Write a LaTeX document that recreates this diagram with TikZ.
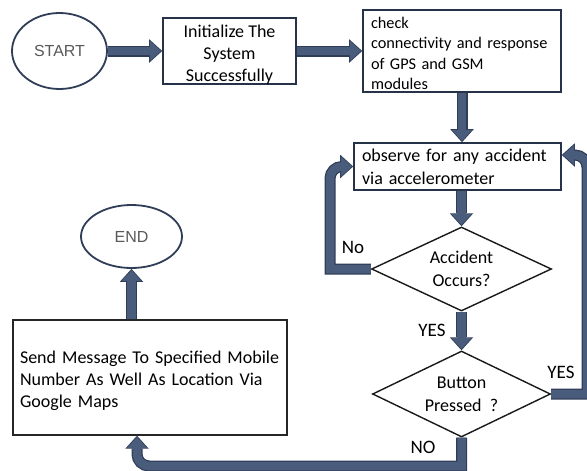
\documentclass[tikz,border=0pt]{standalone}
\usepackage{fontspec}
\setmainfont{Carlito}
\newfontfamily\arialf{Liberation Sans}
\usetikzlibrary{shapes.geometric,arrows.meta}
\definecolor{arrowfill}{HTML}{4A5C7C}
\definecolor{arrowline}{HTML}{2F3D57}
\definecolor{boxline}{HTML}{263248}
\definecolor{ovaltext}{HTML}{595959}
\newcommand{\toppad}[1]{\rule{0pt}{#1}}
\tikzset{
  ellip/.style={ellipse, draw=arrowline, line width=1.8pt, fill=white, inner sep=0pt,
    font=\arialf\fontsize{16}{19}\selectfont, text=ovaltext},
  boxa/.style={rectangle, draw=boxline, line width=1.6pt, fill=white, inner sep=0pt,
    font=\fontsize{18}{22}\selectfont},
  boxb/.style={rectangle, draw=black!85, line width=1.4pt, fill=white, inner sep=0pt,
    font=\fontsize{18}{22}\selectfont},
  decision/.style={diamond, draw=black!90, line width=1.4pt, fill=white, inner sep=0pt,
    aspect=2, align=center, font=\fontsize{18}{23}\selectfont},
  lbl/.style={inner sep=0pt, font=\fontsize{19}{22}\selectfont},
  flow/.style={draw=arrowfill, line width=8.5pt,
    -{Triangle[width=20pt,length=11pt,line width=0pt]}, shorten >=1.3pt,
    preaction={draw=arrowline, line width=11pt,
      -{Triangle[width=23.5pt,length=13pt,line width=0pt]}, shorten >=0pt}},
}
\begin{document}
\begin{tikzpicture}[x=1pt,y=-1pt]
\useasboundingbox (0,0) rectangle (587,471);
% nodes
\node[ellip, minimum width=95pt, minimum height=76pt] (start) at (59.5,51) {START};
\node[boxa, minimum width=133pt, minimum height=66pt, align=center]
  (init) at (229.5,51)
  {\toppad{19pt}Initialize The\\System\\Successfully};
\node[boxa, minimum width=198pt, minimum height=82pt, text width=182pt, align=left,
  font=\fontsize{16.3}{20.3}\selectfont] (check) at (462,51)
  {\toppad{16pt}check\\connectivity and response\\of GPS and GSM\\modules};
\node[boxa, minimum width=207pt, minimum height=47pt, text width=191pt, align=left,
  font=\fontsize{18}{23}\selectfont] (obs) at (457.5,166.5)
  {observe for any accident\\via accelerometer};
\node[decision, minimum width=180pt, minimum height=84pt] (d1) at (461.5,269)
  {Accident\\Occurs?};
\node[decision, minimum width=178pt, minimum height=86pt] (d2) at (461.5,394)
  {Button\\Pressed\ \ ?};
\node[boxb, minimum width=274pt, minimum height=115pt, text width=260pt, align=left] (send)
  at (150,377.5)
  {\toppad{19.5pt}Send Message To Specified Mobile\\Number As Well As Location Via\\Google Maps};
\node[ellip, minimum width=101pt, minimum height=63pt] (end) at (131.5,236.5) {END};
% labels
\node[lbl] (lno) at (353,247) {No};
\node[lbl] (lyes1) at (432,330) {YES};
\node[lbl] (lyes2) at (561,372) {YES};
\node[lbl] (lno2) at (423,447) {NO};
% helper coordinates
\coordinate (nob) at (330,269);
\coordinate (yb) at (587,394);
\coordinate (yt) at (587,155);
\coordinate (nr) at (461.5,466);
\coordinate (nl) at (137,466);
% connectors
\draw[flow] (start.east) -- (init.west);
\draw[flow] (init.east) -- (check.west);
\draw[flow] (check.south) -- (check.south |- obs.north);
\draw[flow] (d1.north |- obs.south) -- (d1.north);
\draw[flow] (d1.south) -- (d2.north);
\draw[flow] (d1.west) -- (nob) [rounded corners=12pt] -- (nob |- obs.west) -- (obs.west);
\draw[flow] (d2.east) -- (yb) [rounded corners=12pt] -- (yt) -- (obs.east |- yt);
\draw[flow] (d2.south) -- (nr) [rounded corners=12pt] -- (nl) -- (nl |- send.south);
\draw[flow] (end.south |- send.north) -- (end.south);
\end{tikzpicture}
\end{document}
